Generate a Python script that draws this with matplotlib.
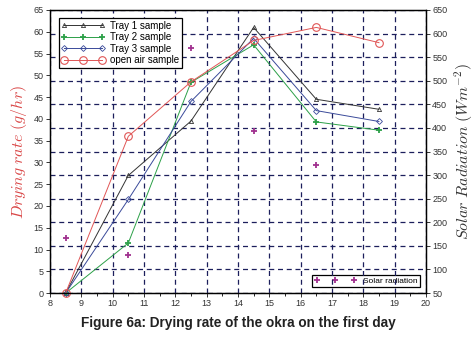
import matplotlib.pyplot as plt
from matplotlib.ticker import MultipleLocator

plt.rcParams['mathtext.fontset'] = 'cm'
plt.rcParams['font.family'] = ['Liberation Sans', 'DejaVu Sans']

# time of day (hours)
hours = [8.5, 10.5, 12.5, 14.5, 16.5, 18.5]

# drying rate (g/hr)
tray1 = [0, 27.0, 39.5, 61.0, 44.5, 42.2]
tray2 = [0, 11.5, 48.4, 57.0, 39.3, 37.4]
tray3 = [0, 21.5, 44.0, 58.5, 41.9, 39.4]
open_air = [0, 36.0, 48.5, 58.0, 61.0, 57.5]

# solar radiation (W/m2)
solar_hours = [8.5, 10.5, 12.5, 14.5, 16.5]
solar = [166, 130, 570, 393, 321]

fig = plt.figure(figsize=(4.77, 3.40), dpi=100)
ax1 = fig.add_axes([0.1048, 0.138, 0.7882, 0.8326])
ax2 = ax1.twinx()
ax1.set_zorder(ax2.get_zorder() + 1)
ax1.patch.set_visible(False)

grid_kw = dict(color='#1c1f5c', linestyle=(0, (4, 3)), linewidth=0.9)

ax1.plot(hours, tray1, color='#333333', lw=0.7, marker='^', ms=3, mfc='none',
         mew=0.6, label='Tray 1 sample', clip_on=False)
ax1.plot(hours, tray2, color='#2ca048', lw=0.7, marker='+', ms=5, mew=1.3,
         label='Tray 2 sample', clip_on=False)
ax1.plot(hours, tray3, color='#3a4a9a', lw=0.7, marker='D', ms=3, mfc='none',
         mew=0.6, label='Tray 3 sample', clip_on=False)
ax1.plot(hours, open_air, color='#e05555', lw=0.7, marker='o', ms=5.5, mfc='none',
         mew=0.8, label='open air sample', clip_on=False)

ax2.plot(solar_hours, solar, linestyle='none', marker='+', ms=5, mew=1.3,
         color='#a0308f', label='Solar radiation')

ax1.set_xlim(8, 20)
ax1.set_ylim(0, 65)
ax2.set_ylim(50, 650)
ax1.xaxis.set_major_locator(MultipleLocator(1))
ax1.xaxis.set_minor_locator(MultipleLocator(0.5))
ax1.yaxis.set_major_locator(MultipleLocator(5))
ax2.yaxis.set_major_locator(MultipleLocator(50))

ax1.grid(axis='x', **grid_kw)
ax2.grid(axis='y', **grid_kw)

for ax in (ax1, ax2):
    ax.tick_params(labelsize=6.5, colors='#333333', length=3, width=0.7, pad=1.5)
    for s in ax.spines.values():
        s.set_linewidth(0.9)
ax1.tick_params(axis='x', which='minor', length=2, width=0.6)

ax1.set_ylabel(r'$Drying\ rate\ (g/hr)$', color='#d94545', fontsize=11.5, labelpad=3)
ax2.set_ylabel(r'$Solar\ Radiation\ (Wm^{-2})$', color='#333333', fontsize=11.5, labelpad=4)

leg1 = ax1.legend(loc='upper left', numpoints=3, handlelength=4.5, fontsize=7,
                  fancybox=False, edgecolor='black', framealpha=1,
                  borderpad=0.3, labelspacing=0.15, handletextpad=0.5,
                  bbox_to_anchor=(0.01, 0.99))
leg1.get_frame().set_linewidth(0.9)
leg2 = ax2.legend(loc='lower right', numpoints=3, handlelength=5, fontsize=6,
                  fancybox=False, edgecolor='black', framealpha=1,
                  borderpad=0.3, bbox_to_anchor=(0.995, 0.005))
leg2.get_frame().set_linewidth(0.9)

fig.text(0.5, 0.05, 'Figure 6a: Drying rate of the okra on the first day',
         ha='center', va='center', fontsize=9.8, fontweight='bold', color='#222222')

fig.savefig('out.png', dpi=100)
